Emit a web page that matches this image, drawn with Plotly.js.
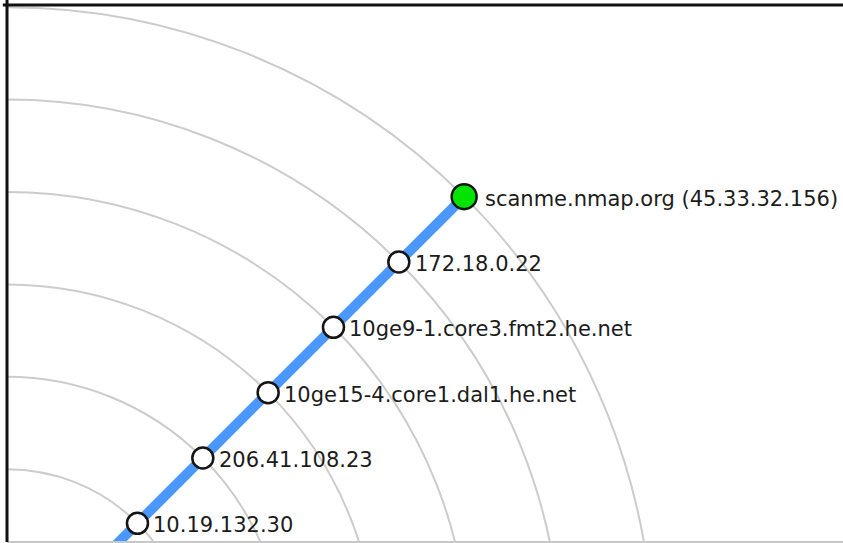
<!DOCTYPE html>
<html>
<head>
<meta charset="utf-8">
<script src="https://cdn.plot.ly/plotly-3.0.1.min.js"></script>
<style>html,body{margin:0;padding:0;background:#fff;}#chart{width:843px;height:543px;}</style>
</head>
<body>
<div id="chart"></div>
<script>
// ---- data ----
const hopNames = ["10.19.132.30", "206.41.108.23", "10ge15-4.core1.dal1.he.net",
                  "10ge9-1.core3.fmt2.he.net", "172.18.0.22", "scanme.nmap.org (45.33.32.156)"];
const hopCounts = [2, 3, 4, 5, 6, 7];
const isTarget = [false, false, false, false, false, true];
const ringHops = [1, 2, 3, 4, 5, 6, 7];
const angleDeg = 45;

// ---- geometry (layout only) ----
const W = 843, H = 543;
const pxPerHop = 92.4;
const cx = 6.8, cy = 654;       // pixel position of the origin (local host)
const mL = 7, mT = 5, mR = 0, mB = 1;
const xRange = [(mL - cx) / pxPerHop, (W - mR - cx) / pxPerHop];
const yRange = [(cy - (H - mB)) / pxPerHop, (cy - mT) / pxPerHop];

const a = angleDeg * Math.PI / 180;
const nx = hopCounts.map(h => h * Math.cos(a));
const ny = hopCounts.map(h => h * Math.sin(a));

const lineTrace = {
  x: [0].concat(nx), y: [0].concat(ny),
  mode: "lines", type: "scatter",
  line: {color: "#4a98ff", width: 10},
  hoverinfo: "skip", showlegend: false
};
const nodeTrace = {
  x: nx, y: ny, mode: "markers", type: "scatter", opacity: 1,
  marker: {
    opacity: 1,
    color: isTarget.map(t => t ? "#00e400" : "#ffffff"),
    size: isTarget.map(t => t ? 25 : 21),
    line: {color: "#141414", width: 2.5}
  },
  text: hopNames, hoverinfo: "text", showlegend: false, cliponaxis: false
};

const shapes = ringHops.map(r => ({
  type: "circle", xref: "x", yref: "y", x0: -r, y0: -r, x1: r, y1: r,
  line: {color: "#cccccc", width: 2}, layer: "below"
}));
shapes.push({type: "line", xref: "paper", yref: "paper", x0: 0, x1: 1, y0: 0, y1: 0,
             line: {color: "#c8c8c8", width: 2}});
shapes.push({type: "line", xref: "paper", yref: "paper", x0: 0, x1: 0, y0: 0, y1: 1.01,
             line: {color: "#111111", width: 3}});
shapes.push({type: "line", xref: "paper", yref: "paper", x0: -0.005, x1: 1, y0: 1, y1: 1,
             line: {color: "#111111", width: 3}});

const annotations = hopNames.map((t, i) => ({
  x: nx[i], y: ny[i], xref: "x", yref: "y", text: t, showarrow: false,
  xanchor: "left", yanchor: "middle",
  xshift: isTarget[i] ? 19 : 14, yshift: -2,
  font: {family: "DejaVu Sans", size: 21, color: "#1c1c1c"}
}));

const layout = {
  width: W, height: H,
  margin: {l: mL, r: mR, t: mT, b: mB, pad: 0},
  paper_bgcolor: "#ffffff", plot_bgcolor: "#ffffff",
  xaxis: {range: xRange, visible: false, fixedrange: true},
  yaxis: {range: yRange, visible: false, fixedrange: true},
  shapes: shapes, annotations: annotations, showlegend: false
};

Plotly.newPlot("chart", [lineTrace, nodeTrace], layout, {displayModeBar: false, staticPlot: true});
</script>
</body>
</html>
